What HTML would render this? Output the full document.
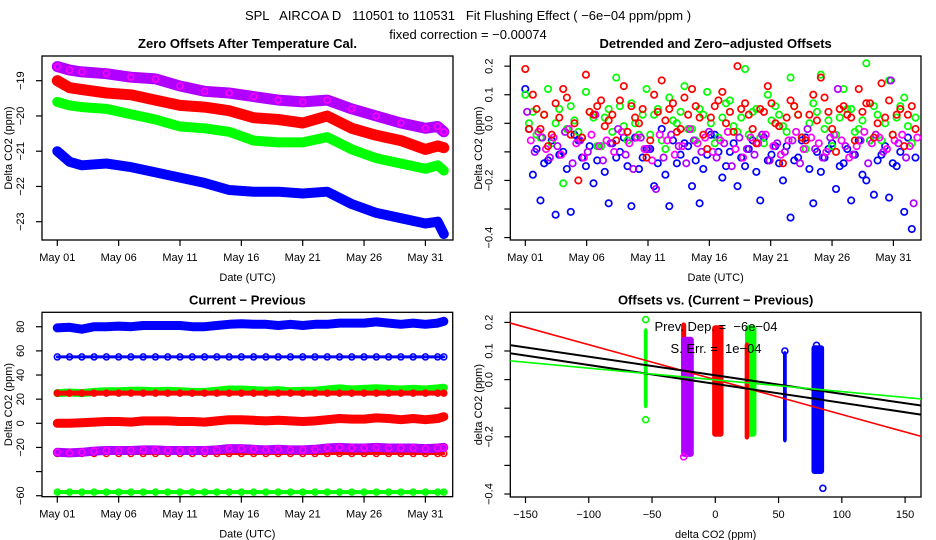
<!DOCTYPE html>
<html><head><meta charset="utf-8"><style>
html,body{margin:0;padding:0;background:#fff;}
svg{display:block;font-family:"Liberation Sans",sans-serif;}
text{white-space:pre;}
</style></head><body>
<svg id="chart" width="936" height="540" viewBox="0 0 936 540" xmlns="http://www.w3.org/2000/svg">
<text x="468" y="20" text-anchor="middle" font-size="13">SPL   AIRCOA D   110501 to 110531   Fit Flushing Effect ( −6e−04 ppm/ppm )</text>
<text x="468" y="39" text-anchor="middle" font-size="13">fixed correction = −0.00074</text>
<g id="g"></g>
</svg>
<script>
// ---- Panel 1 data (days since May 01, offsets in ppm)
const p1Days   = [0,1,2,4,6,8,10,12,14,16,18,20,22,24,26,28,30,31,31.5];
const p1Purple = [-18.6,-18.7,-18.75,-18.8,-18.9,-18.95,-19.15,-19.3,-19.35,-19.45,-19.55,-19.6,-19.55,-19.8,-20.0,-20.2,-20.35,-20.3,-20.45];
const p1Red    = [-19.0,-19.2,-19.25,-19.35,-19.4,-19.55,-19.7,-19.75,-19.85,-20.05,-20.1,-20.2,-20.0,-20.35,-20.55,-20.7,-20.95,-20.85,-20.9];
const p1Green  = [-19.6,-19.7,-19.75,-19.8,-19.95,-20.1,-20.3,-20.35,-20.45,-20.7,-20.75,-20.75,-20.6,-20.95,-21.2,-21.35,-21.5,-21.4,-21.55];
const p1Blue   = [-21.0,-21.3,-21.4,-21.35,-21.45,-21.6,-21.75,-21.9,-22.1,-22.15,-22.15,-22.2,-22.15,-22.5,-22.75,-22.9,-23.05,-23.0,-23.35];
const dateTicks = [0,5,10,15,20,25,30];
const dateLabels = ["May 01","May 06","May 11","May 16","May 21","May 26","May 31"];
const p1YTicks = [-19,-20,-21,-22,-23];

// ---- Panel 2 data (detrended offsets)
const p2Red = [0.19,0.10,-0.02,-0.08,0.07,0.12,-0.04,-0.20,0.17,0.03,0.08,0.01,-0.06,0.13,0.06,0.0,-0.12,0.10,0.15,0.05,-0.03,0.09,0.12,0.02,-0.09,0.06,0.11,0.04,0.20,0.07,-0.02,0.05,0.13,0.0,-0.14,0.08,0.03,-0.06,0.10,0.16,0.04,-0.10,0.06,0.02,0.12,0.07,-0.05,0.14,0.08,0.03,-0.08,0.06];
const p2Red2 = [-0.02,0.05,0.03,-0.04,0.02,0.09,0.0,-0.05,0.04,0.06,-0.01,0.03,0.08,-0.03,0.02,0.05,-0.06,0.04,0.01,0.07,-0.02,0.03,0.06,-0.04,0.02,0.08,0.0,-0.03,0.05,0.03,-0.07,0.04,0.07,-0.01,0.02,0.06,-0.05,0.03,0.01,0.09,-0.02,0.05,0.03,-0.06,0.04,0.07,0.0,0.02,-0.04,0.05,0.03,-0.02];
const p2Green = [0.10,0.04,-0.05,0.12,0.0,-0.21,0.06,-0.03,0.11,0.02,-0.08,0.05,0.16,-0.01,0.07,-0.04,0.12,0.03,-0.06,0.09,0.0,0.13,-0.02,0.05,0.11,-0.07,0.02,0.08,-0.03,0.19,0.04,-0.05,0.10,0.06,-0.01,0.16,0.03,-0.09,0.07,0.17,0.01,-0.04,0.12,0.05,-0.02,0.21,0.06,-0.06,0.15,0.02,0.09,-0.07];
const p2Green2 = [0.0,-0.04,0.03,-0.07,0.05,-0.02,0.01,-0.05,0.04,-0.08,0.02,-0.03,0.06,-0.06,0.0,0.03,-0.04,0.05,-0.09,0.01,0.04,-0.02,-0.06,0.03,0.0,-0.05,0.07,-0.01,0.02,-0.04,0.05,-0.07,0.01,0.03,-0.03,0.06,-0.05,0.0,0.04,-0.02,-0.08,0.02,0.05,-0.03,0.01,-0.06,0.03,0.0,-0.04,0.06,-0.01,0.02];
const p2Blue = [0.12,-0.18,-0.27,-0.13,-0.32,-0.10,-0.31,-0.06,-0.15,-0.21,-0.08,-0.28,-0.12,-0.05,-0.29,-0.16,-0.09,-0.22,-0.02,-0.29,-0.14,-0.07,-0.22,-0.28,-0.11,-0.04,-0.19,-0.10,-0.22,-0.15,-0.06,-0.27,-0.13,-0.08,-0.20,-0.33,-0.12,-0.05,-0.28,-0.17,-0.09,-0.23,-0.14,-0.27,-0.06,-0.20,-0.25,-0.11,-0.26,-0.15,-0.31,-0.37];
const p2Blue2 = [-0.02,-0.09,-0.14,-0.06,-0.11,-0.16,-0.04,-0.12,-0.08,-0.13,-0.17,-0.07,-0.10,-0.15,-0.05,-0.12,-0.09,-0.14,-0.18,-0.06,-0.11,-0.08,-0.13,-0.16,-0.04,-0.10,-0.15,-0.07,-0.12,-0.09,-0.17,-0.05,-0.11,-0.14,-0.08,-0.13,-0.06,-0.16,-0.10,-0.12,-0.07,-0.15,-0.09,-0.11,-0.18,-0.06,-0.13,-0.08,-0.14,-0.10,-0.05,-0.12];
const p2Purple = [0.04,-0.10,-0.05,-0.12,-0.08,-0.03,-0.14,-0.06,-0.10,0.03,-0.13,-0.07,-0.02,-0.11,-0.16,-0.05,-0.09,-0.23,-0.12,-0.04,-0.08,-0.14,-0.06,-0.10,-0.03,-0.12,-0.07,-0.15,-0.05,-0.09,-0.11,-0.04,-0.13,-0.07,-0.10,-0.06,-0.14,-0.02,-0.09,-0.12,-0.05,0.12,-0.08,-0.11,-0.06,-0.14,-0.04,-0.10,0.15,-0.07,-0.12,-0.28];
const p2Purple2 = [-0.06,-0.03,-0.09,-0.05,-0.11,-0.02,-0.07,-0.12,-0.04,-0.08,-0.06,-0.10,-0.03,-0.07,-0.05,-0.09,-0.13,-0.04,-0.06,-0.11,-0.08,-0.02,-0.07,-0.05,-0.10,-0.06,-0.03,-0.09,-0.12,-0.05,-0.07,-0.04,-0.08,-0.11,-0.06,-0.03,-0.09,-0.05,-0.07,-0.10,-0.04,-0.06,-0.12,-0.08,-0.03,-0.07,-0.05,-0.09,-0.06,-0.04,-0.08,-0.05];
const p2YTicks = [0.2,0.1,0.0,-0.1,-0.2,-0.3,-0.4];
const p2YLabels = ["0.2","0.1","0.0","","−0.2","","−0.4"];

// ---- Panel 3 data (current - previous)
const p3Days = [0,1,2,3,4,5,6,7,8,9,10,11,12,13,14,15,16,17,18,19,20,21,22,23,24,25,26,27,28,29,30,31,31.5];
const p3Blue   = [79,79.5,78,80,80,80.5,80,81,81,81,81,80,80,81,82,82.5,82,82,81,82,81,82,82,83,83,83,84,83,82,83,82,83,84.5];
const p3Blue55 = [55,55,55,55,55,55,55,55,55,55,55,55,55,55,55,55,55,55,55,55,55,55,55,55,55,55,55,55,55,55,55,55,55];
const p3Green  = [25,25.5,25,26,26.5,26.5,27,27,26.5,27,26.5,26,26,27,28,28,27.5,27,27.5,26.5,27,27,28,29,28,28.5,29,28.5,28,28.5,28,29,29.5];
const p3Red25  = [25,25,25,25,25,25,25,25,25,25,25,25,25,25,25,25,25,25,25,25,25,25,25,25,25,25,25,25,25,25,25,25,25];
const p3Red    = [0,0,0.5,1,1.5,1.5,1,2,2,2,1.5,1.5,1,2,3,3,2.5,2,2.5,2,1.5,2,3,4,3.5,3.5,4.5,4,3,4,3,4,5.5];
const p3Purple = [-24,-24.5,-24,-23,-22.5,-22.5,-22.5,-22,-22,-22.5,-22.5,-22.5,-22.5,-22,-21,-21,-21.5,-22,-21.5,-22,-22,-21.5,-20.5,-20,-20.5,-20.5,-20,-20.5,-20.5,-20.5,-21,-20.5,-20];
const p3RedM25 = [-25,-25,-25,-25,-25,-25,-25,-25,-25,-25,-25,-25,-25,-25,-25,-25,-25,-25,-25,-25,-25,-25,-25,-25,-25,-25,-25,-25,-25,-25,-25,-25,-25];
const p3GreenM57=[-57,-57,-57,-57,-57,-57,-57,-57,-57,-57,-57,-57,-57,-57,-57,-57,-57,-57,-57,-57,-57,-57,-57,-57,-57,-57,-57,-57,-57,-57,-57,-57,-57];
const p3YTicks = [80,60,40,20,0,-20,-40,-60];
const p3YLabels = ["80","60","40","20","0","−20","","−60"];

// ---- Panel 4 data (clusters: x center, half width, y range)
const p4ClusterName = ["green-m55","red-m25","purple-m22","red-0","green-28","red-25","blue-55","blue-81"];
const p4ClusterX   = [-55,-25,-22,2,28,25,55,81];
const p4ClusterHW  = [1.5,2,5,4.5,4.5,1.8,1.5,5];
const p4ClusterYmin= [-0.10,-0.02,-0.27,-0.20,-0.20,-0.21,-0.22,-0.33];
const p4ClusterYmax= [0.18,0.20,0.15,0.19,0.19,0.13,0.10,0.12];
const p4ClusterCol = ["#00ff00","#ff0000","#b000ff","#ff0000","#00ff00","#ff0000","#0000ff","#0000ff"];
const p4OutX = [-55,-55,-25,85,55,80];
const p4OutY = [0.21,-0.14,-0.27,-0.38,0.10,0.12];
const p4OutCol = ["#00ff00","#00ff00","#ff00ff","#0000ff","#0000ff","#0000ff"];
const p4LineSlope = [-0.00122,-0.00065,-0.00066,-0.00041];
const p4LineInt   = [0.0,0.015,-0.015,-0.001];
const p4LineCol   = ["#ff0000","#000000","#000000","#00ff00"];
const p4XTicks = [-150,-100,-50,0,50,100,150];
const p4XLabels = ["−150","−100","−50","0","50","100","150"];

const PURPLE="#b000ff";
const NS="http://www.w3.org/2000/svg";
const G=document.getElementById('g');
function el(tag,attrs,parent){const e=document.createElementNS(NS,tag);for(const k in attrs)e.setAttribute(k,attrs[k]);(parent||G).appendChild(e);return e;}

const xd1=d=>57.3+d*12.27;
const y1=v=>80.7+(-19-v)*35.25;
const xd2=d=>525.3+d*12.27;
const y2=v=>123.3-v*285.7;
const y3=v=>423.3-v*1.207;
const x4=v=>715.3+v*1.2653;
const y4=v=>379.6-v*286;

function frame(name,x0,y0,x1,y1b,title,xlab,ylab,tx){
  const g=el('g',{});
  
  
  const r=el('rect',{x:x0,y:y0,width:x1-x0,height:y1b-y0,fill:'none',stroke:'#000','stroke-width':1.3},g);
  
  
  const t=el('text',{x:(x0+x1)/2,y:y0-8,'text-anchor':'middle','font-size':13,'font-weight':'bold'},g);t.textContent=title;
  
  
  const xl=el('text',{x:(x0+x1)/2,y:y1b+41,'text-anchor':'middle','font-size':11},g);xl.textContent=xlab;
  
  
  const yl=el('text',{x:tx,y:(y0+y1b)/2,'text-anchor':'middle','font-size':11,transform:`rotate(-90 ${tx} ${(y0+y1b)/2})`},g);yl.textContent=ylab;
  
  
  return g;
}
function xAxis(g,ticks,labels,fx,yb){
  ticks.forEach((t,i)=>{const x=fx(t);el('line',{x1:x,x2:x,y1:yb,y2:yb+6,stroke:'#000','stroke-width':1.2},g);
    const tt=el('text',{x:x,y:yb+21,'text-anchor':'middle','font-size':11},g);tt.textContent=labels[i];
    
    });
}
function yAxis(g,ticks,labels,fy,xl){
  ticks.forEach((t,i)=>{const y=fy(t);el('line',{x1:xl-6,x2:xl,y1:y,y2:y,stroke:'#000','stroke-width':1.2},g);
    if(labels[i]!==''){const lx=xl-18;const tt=el('text',{x:lx,y:y,'text-anchor':'middle','font-size':11,transform:`rotate(-90 ${lx} ${y})`},g);tt.textContent=labels[i];
    
    }});
}
function band(g,name,xs,vs,fx,fy,col,w){
  const s=el('g',{},g);
  
  
  const d=xs.map((x,i)=>(i?'L':'M')+fx(x).toFixed(1)+' '+fy(vs[i]).toFixed(1)).join(' ');
  el('path',{d:d,fill:'none',stroke:col,'stroke-width':w,'stroke-linejoin':'round','stroke-linecap':'round'},s);
  xs.forEach((x,i)=>el('circle',{cx:fx(x),cy:fy(vs[i]),r:3,fill:'none',stroke:col==PURPLE?'#ff00ff':col,'stroke-width':1.5},s));
}
function scatter(g,name,vs,fx,fy,col,off){
  const s=el('g',{},g);
  
  
  const n=vs.length;
  vs.forEach((v,i)=>el('circle',{cx:fx(i*31.5/(n-1)+(off||0)),cy:fy(v),r:3.2,fill:'none',stroke:col,'stroke-width':1.7},s));
}

// Panel 1
let g1=frame('panel-zero-offsets',42,56,453,240,'Zero Offsets After Temperature Cal.','Date (UTC)','Delta CO2 (ppm)',12);
xAxis(g1,dateTicks,dateLabels,xd1,240);
yAxis(g1,p1YTicks,p1YTicks.map(v=>String(v).replace('-','−')),y1,42);
band(g1,'series-purple',p1Days,p1Purple,xd1,y1,PURPLE,11);
band(g1,'series-red',p1Days,p1Red,xd1,y1,'#ff0000',11);
band(g1,'series-green',p1Days,p1Green,xd1,y1,'#00ff00',10);
band(g1,'series-blue',p1Days,p1Blue,xd1,y1,'#0000ff',10);

// Panel 2
let g2=frame('panel-detrended-offsets',510.3,56,921,240,'Detrended and Zero−adjusted Offsets','Date (UTC)','Delta CO2 (ppm)',482);
xAxis(g2,dateTicks,dateLabels,xd2,240);
yAxis(g2,p2YTicks,p2YLabels,y2,510.3);
scatter(g2,'series-blue',p2Blue,xd2,y2,'#0000ff',0);
scatter(g2,'series-blue-b',p2Blue2,xd2,y2,'#0000ff',0.3);
scatter(g2,'series-green',p2Green,xd2,y2,'#00ff00',0);
scatter(g2,'series-green-b',p2Green2,xd2,y2,'#00ff00',0.3);
scatter(g2,'series-purple',p2Purple,xd2,y2,'#b000ff',0.15);
scatter(g2,'series-purple-b',p2Purple2,xd2,y2,'#ff00ff',0.45);
scatter(g2,'series-red',p2Red,xd2,y2,'#ff0000',0);
scatter(g2,'series-red-b',p2Red2,xd2,y2,'#ff0000',0.3);

// Panel 3
let g3=frame('panel-current-previous',42,312.3,452.7,496.7,'Current − Previous','Date (UTC)','Delta CO2 (ppm)',12);
xAxis(g3,dateTicks,dateLabels,xd1,496.7);
yAxis(g3,p3YTicks,p3YLabels,y3,42);
band(g3,'series-blue',p3Days,p3Blue,xd1,y3,'#0000ff',9);
band(g3,'series-blue-55',p3Days,p3Blue55,xd1,y3,'#0000ff',3);
band(g3,'series-green',p3Days,p3Green,xd1,y3,'#00ff00',8);
band(g3,'series-red-25',p3Days,p3Red25,xd1,y3,'#ff0000',5);
band(g3,'series-red-m25',p3Days,p3RedM25,xd1,y3,'#ff0000',3);
band(g3,'series-red',p3Days,p3Red,xd1,y3,'#ff0000',9);
band(g3,'series-purple',p3Days,p3Purple,xd1,y3,PURPLE,9);
band(g3,'series-green-m57',p3Days,p3GreenM57,xd1,y3,'#00ff00',4);

// Panel 4
let g4=frame('panel-offsets-vs-diff',510.3,312.3,921,497,'Offsets vs. (Current − Previous)','delta CO2 (ppm)','delta CO2 (ppm)',482);
xAxis(g4,p4XTicks,p4XLabels,x4,497);
yAxis(g4,p2YTicks,p2YLabels,y4,510.3);
const clip=el('clipPath',{id:'c4'},g4);el('rect',{x:510.3,y:312.3,width:410.7,height:184.7},clip);
const cg=el('g',{'clip-path':'url(#c4)'},g4);
p4ClusterX.forEach((cx,i)=>{
  const r=el('rect',{x:x4(cx-p4ClusterHW[i]),y:y4(p4ClusterYmax[i]),width:x4(cx+p4ClusterHW[i])-x4(cx-p4ClusterHW[i]),height:y4(p4ClusterYmin[i])-y4(p4ClusterYmax[i]),fill:p4ClusterCol[i],rx:3},cg);
  
  
});
p4OutX.forEach((x,i)=>{
  const c=el('circle',{cx:x4(x),cy:y4(p4OutY[i]),r:3,fill:'none',stroke:p4OutCol[i],'stroke-width':1.6},cg);
  
  
});
p4LineSlope.forEach((m,i)=>{
  const l=el('line',{x1:x4(-170),y1:y4(p4LineInt[i]+m*-170),x2:x4(170),y2:y4(p4LineInt[i]+m*170),stroke:p4LineCol[i],'stroke-width':p4LineCol[i]=='#000000'?2:1.6},cg);
  
  
});
const a1=el('text',{x:716,y:331,'text-anchor':'middle','font-size':13},g4);a1.textContent='Prev. Dep. =  −6e−04';


const a2=el('text',{x:716,y:353,'text-anchor':'middle','font-size':13},g4);a2.textContent='S. Err. =  1e−04';


</script>
</body></html>
